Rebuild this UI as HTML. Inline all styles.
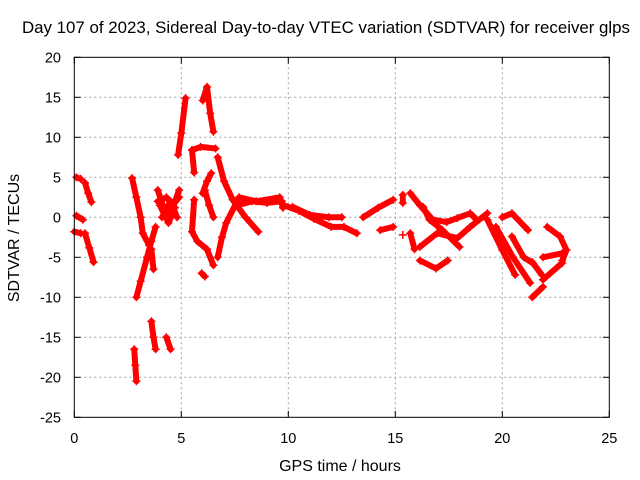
<!DOCTYPE html>
<html><head><meta charset="utf-8"><style>
body{margin:0;background:#fff}
svg{display:block;font-family:"Liberation Sans",sans-serif}
</style></head><body>
<svg id="c" width="640" height="480">
<text x="326" y="33" text-anchor="middle" font-size="16.5" textLength="608" lengthAdjust="spacingAndGlyphs">Day 107 of 2023, Sidereal Day-to-day VTEC variation (SDTVAR) for receiver glps</text>
<text x="340" y="471" text-anchor="middle" font-size="16">GPS time / hours</text>
<text transform="translate(19,238) rotate(-90)" text-anchor="middle" font-size="16">SDTVAR / TECUs</text>
<g id="grid"></g><g id="ticks"></g><g id="marks"></g>
<rect x="74.3" y="57.3" width="535" height="360" fill="none" stroke="#000" stroke-width="1"/>
</svg>
<script>
const xTicks=[0,5,10,15,20,25];
const yTicks=[20,15,10,5,0,-5,-10,-15,-20,-25];
const tracks=[
[[0.1,5],[0.3,4.8]],
[[0.1,0.2],[0.4,-0.3]],
[[0.0,-1.8],[0.3,-2]],
[[0.5,4.3],[0.65,3],[0.8,1.9]],
[[0.5,-2],[0.7,-3.8],[0.9,-5.6]],
[[2.7,4.9],[2.9,2.5],[3.1,0],[3.2,-2],[3.5,-3.5]],
[[2.9,-10],[3.1,-8],[3.4,-5],[3.6,-3],[3.8,-1.2]],
[[3.6,-4],[3.7,-6.5]],
[[3.9,3.4],[4.2,1],[4.5,0.5],[4.9,3.4]],
[[4.0,1.5],[4.4,-0.7],[4.7,1.2]],
[[3.9,2],[4.3,2.5],[4.6,1.5],[4.9,2.5]],
[[4.1,0],[4.5,2],[4.8,0]],
[[4.85,7.8],[5.0,10.5],[5.2,14.9]],
[[6.0,14.6],[6.2,16.3],[6.35,13],[6.5,10.7]],
[[5.5,8.4],[5.9,8.8],[6.6,8.6]],
[[5.5,8.4],[5.6,5.6]],
[[6.0,3],[6.2,4.5],[6.4,5.5]],
[[6.1,3.4],[6.3,1.5],[6.5,0]],
[[6.7,7.5],[7.0,4.5],[7.4,2.2],[8.0,0],[8.6,-1.8]],
[[6.7,-5],[6.9,-2.5],[7.1,-0.7],[7.7,2.5],[8.5,2],[9.6,2.5],[9.75,1.2]],
[[7.6,1.5],[8.3,2],[9.0,1.8],[9.7,2]],
[[5.6,2.2],[5.5,-1.8],[5.75,-3],[6.2,-4],[6.5,-6]],
[[5.95,-7],[6.1,-7.4]],
[[2.8,-16.5],[2.85,-18.5],[2.9,-20.5]],
[[3.6,-13],[3.7,-15],[3.8,-16.5]],
[[4.3,-15],[4.5,-16.5]],
[[9.8,1.5],[10.5,0.8],[11.2,-0.2],[12.0,-1.2],[12.6,-1.2],[13.2,-2]],
[[10.2,1.3],[11,0.3],[11.9,0],[12.5,0]],
[[13.5,0],[14.2,1.2],[14.9,2.2]],
[[14.3,-1.6],[14.9,-1.2]],
[[15.35,2.8],[15.35,1.8]],
[[15.35,-2.2]],
[[15.7,3],[16.15,1.5],[16.75,-0.3],[17.4,-0.6],[17.9,-0.1],[18.5,0.5],[18.8,-0.3]],
[[16.3,1.3],[16.6,-0.3],[17.2,-1.6],[18.0,-3.7]],
[[16.15,-3.7],[16.95,-2],[17.9,-2.6],[18.5,-1.2],[19.3,0.5]],
[[15.7,-2],[15.9,-4]],
[[16.15,-5.4],[16.9,-6.4],[17.45,-5.4]],
[[19.3,-0.3],[20.0,-4.1],[20.6,-7.2]],
[[19.7,-1.2],[20.5,-5],[21.3,-8.2]],
[[20.0,0],[20.45,0.5],[21.2,-1.6]],
[[20.45,-2.4],[21.0,-5],[21.4,-5.7]],
[[21.4,-5.6],[21.85,-7.2]],
[[21.4,-10],[21.9,-8.7]],
[[21.9,-7.8],[22.8,-5.7]],
[[22.1,-1.2],[22.7,-2.4],[23.0,-4.1],[22.8,-5.4]],
[[21.9,-5],[22.8,-4.5]]
];
const NS='http://www.w3.org/2000/svg';
const X=t=>74.3+t*21.4, Y=v=>217.3-v*8;
const grid=document.getElementById('grid'),ticks=document.getElementById('ticks'),marks=document.getElementById('marks');
function mk(tag,a,p){const e=document.createElementNS(NS,tag);for(const k in a)e.setAttribute(k,a[k]);p.appendChild(e);return e;}
xTicks.forEach(t=>{const x=X(t);
 if(t>0&&t<25){const g=mk('line',{x1:x,y1:57.3,x2:x,y2:417.3,stroke:'#a0a0a0','stroke-dasharray':'2,3'},grid);
 
 }
 mk('line',{x1:x,y1:417.3,x2:x,y2:411,stroke:'#000'},ticks);
 mk('line',{x1:x,y1:57.3,x2:x,y2:63.6,stroke:'#000'},ticks);
 const l=mk('text',{x:x,y:443,'text-anchor':'middle','font-size':14.5},ticks);l.textContent=t;
 
 
});
yTicks.forEach(v=>{const y=Y(v);
 if(v<20&&v>-25){const g=mk('line',{x1:74.3,y1:y,x2:609.3,y2:y,stroke:'#a0a0a0','stroke-dasharray':'2,3'},grid);
 
 }
 mk('line',{x1:74.3,y1:y,x2:80.6,y2:y,stroke:'#000'},ticks);
 mk('line',{x1:609.3,y1:y,x2:603,y2:y,stroke:'#000'},ticks);
 const l=mk('text',{x:61,y:y+5,'text-anchor':'end','font-size':14.5},ticks);l.textContent=v;
 
 
});
tracks.forEach(tr=>{
 const pl=mk('polyline',{points:tr.map(p=>X(p[0])+','+Y(p[1])).join(' '),fill:'none',stroke:'#ff0000','stroke-width':6,'stroke-linecap':'round','stroke-linejoin':'round'},marks);
 
 
 tr.forEach(p=>{const x=X(p[0]),y=Y(p[1]);
  const m=mk('path',{d:`M${x-4},${y}H${x+4}M${x},${y-4}V${y+4}`,stroke:'#ff0000','stroke-width':1.5},marks);
  
  
 });
});
</script>
</body></html>
